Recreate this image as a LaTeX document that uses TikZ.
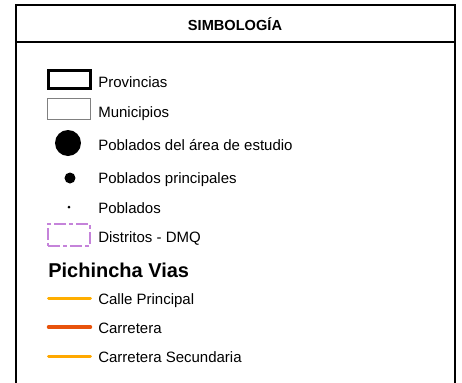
\documentclass[tikz,border=0pt]{standalone}
\usepackage{fontspec}
\setmainfont{Liberation Sans}
\usepackage{tikz}
\usetikzlibrary{positioning}
\definecolor{calle}{HTML}{FFAE00}
\definecolor{carretera}{HTML}{E8530C}
\definecolor{secundaria}{HTML}{FFA800}
\definecolor{distrito}{HTML}{C583DA}
\tikzstyle{lbl} = [inner sep=0pt, anchor=base west, font=\fontsize{11.25}{13}\selectfont]
\tikzstyle{provbox} = [rectangle, draw, line width=2.25pt, minimum width=31.5pt, minimum height=13.5pt, inner sep=0pt]
\tikzstyle{munbox} = [rectangle, draw=gray, line width=0.75pt, minimum width=32.25pt, minimum height=15.75pt, inner sep=0pt]
\tikzstyle{distbox} = [rectangle, draw=distrito, line width=1.5pt, dash pattern=on 9pt off 2.5pt on 2.5pt off 2.5pt, minimum width=31.5pt, minimum height=16.5pt, inner sep=0pt]
\tikzstyle{dot} = [circle, fill, inner sep=0pt]
\tikzstyle{via} = [line width=2.25pt, line cap=round]

\begin{document}
\begin{tikzpicture}[x=0.75pt, y=-0.75pt]
\useasboundingbox (0,0) rectangle (462,383);
\draw [line width=1.1pt] (16,383) |- (455,5) -- (455,383);
\draw [line width=1.1pt] (16,42) -- (455,42);
\node [inner sep=0pt, anchor=base, font=\bfseries\fontsize{10.95}{13}\selectfont] (titulo) at (235,30.5) {SIMBOLOGÍA};

\node [provbox] (prov) at (69.5,79.5) {};
\node [munbox] (mun) at (69,109) {};
\node [dot, minimum size=19.5pt] (area) at (68,143) {};
\node [dot, minimum size=8.25pt] (princ) at (70,178) {};
\node [dot, minimum size=2.25pt] (pob) at (69,207) {};
\node [distbox] (dist) at (69,235) {};

\node [lbl] (provtxt) at (98,87) {Provincias};
\node [lbl] (muntxt) at (98,117) {Municipios};
\node [lbl] (areatxt) at (98,150) {Poblados del área de estudio};
\node [lbl] (princtxt) at (98,183) {Poblados principales};
\node [lbl] (pobtxt) at (98,213) {Poblados};
\node [lbl] (disttxt) at (98,242) {Distritos - DMQ};

\node [lbl, font=\bfseries\fontsize{15}{18}\selectfont] (vias) at (48,277) {Pichincha Vias};

\draw [via, calle] (48.5,298) -- (90.5,298);
\draw [via, carretera, line width=2.6pt] (48.5,327) -- (90.5,327);
\draw [via, secundaria] (48.5,356) -- (90.5,356);

\node [lbl] (calletxt) at (98,304) {Calle Principal};
\node [lbl] (carrtxt) at (98,333) {Carretera};
\node [lbl] (sectxt) at (98,362) {Carretera Secundaria};
\end{tikzpicture}
\end{document}
